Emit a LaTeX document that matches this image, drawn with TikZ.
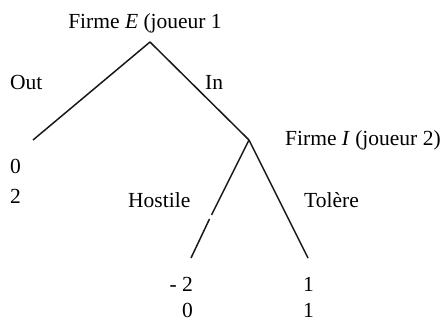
\documentclass[tikz,border=0pt]{standalone}
\usepackage{fontspec}
\setmainfont{Liberation Serif}
\begin{document}
\begin{tikzpicture}[x=1pt,y=1pt,
  branch/.style={line width=1.5pt,black!90},
  lbl/.style={inner sep=0pt,font=\fontsize{21.5}{25}\selectfont}]
\useasboundingbox (0,0) rectangle (445,322);
% decision nodes and leaves
\coordinate (E) at (150,280);
\coordinate (out) at (33,182);
\coordinate (I) at (249,182);
\coordinate (hos) at (191,64);
\coordinate (tol) at (308,64);
\coordinate (gapa) at (211.5,107);
\coordinate (gapb) at (209.5,103);
% branches
\draw[branch] (E) -- (out);
\draw[branch] (E) -- (I);
\draw[branch] (I) -- (gapa);
\draw[branch] (gapb) -- (hos);
\draw[branch] (I) -- (tol);
% players
\node[lbl,anchor=base] (pE) at (145,293) {Firme \textit{E} (joueur 1};
\node[lbl,anchor=base west] (pI) at (285,176) {Firme \textit{I} (joueur 2)};
% actions
\node[lbl,anchor=base west] (aout) at (10,233) {Out};
\node[lbl,anchor=base west] (ain) at (205,233) {In};
\node[lbl,anchor=base west] (ahos) at (128,115) {Hostile};
\node[lbl,anchor=base west] (atol) at (304,115) {Tolère};
% payoffs
\node[lbl,anchor=base west] (p1a) at (10,149) {0};
\node[lbl,anchor=base west] (p1b) at (10,118) {2};
\node[lbl,anchor=base east] (p2a) at (193,31) {- 2};
\node[lbl,anchor=base east] (p2b) at (193,5) {0};
\node[lbl,anchor=base west] (p3a) at (303,31) {1};
\node[lbl,anchor=base west] (p3b) at (303,5) {1};
\end{tikzpicture}
\end{document}
